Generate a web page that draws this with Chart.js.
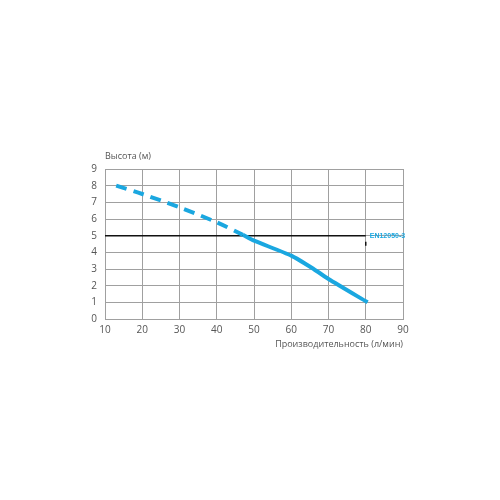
<!DOCTYPE html>
<html><head><meta charset="utf-8">
<script src="https://cdn.jsdelivr.net/npm/chart.js@4/dist/chart.umd.min.js"></script>
<style>html,body{margin:0;padding:0;background:#fff}#wrap{width:500px;height:500px}</style>
</head><body><div id="wrap"><canvas id="c" width="500" height="500"></canvas></div>
<script>
const xTicks = [10,20,30,40,50,60,70,80,90];
const yTicks = [0,1,2,3,4,5,6,7,8,9];
const dashedFlow = [13,20,30,40,47];
const dashedHead = [8.0,7.5,6.7,5.8,5.05];
const solidFlow = [47,50,60,66,70,80.5];
const solidHead = [5.05,4.7,3.8,3.0,2.4,1.0];
const refFlow = [10,80];
const refHead = [5,5];
const markFlow = [80,80];
const markHead = [4.63,4.39];
const yTitle = 'Высота (м)';
const xTitle = 'Производительность (л/мин)';
const refLabel = 'EN12050-3';
const toPts = (xs, ys) => xs.map((x,i)=>({x, y: ys[i]}));
const blue = '#1aa7e0';
const textPlugin = {
  id:'texts',
  afterDraw(chart){
    const {ctx, scales:{x,y}, chartArea} = chart;
    ctx.save();
    ctx.fillStyle = '#555';
    ctx.font = '9px "Open Sans", sans-serif';
    ctx.textBaseline = 'middle';
    ctx.textAlign = 'left';
    ctx.fillText(yTitle, chartArea.left, 156);
    ctx.textAlign = 'right';
    ctx.fillText(xTitle, chartArea.right, 344);
    ctx.fillStyle = blue;
    ctx.font = 'bold 7px "Liberation Sans Narrow", "Liberation Sans", sans-serif';
    ctx.textAlign = 'left';
    ctx.fillText(refLabel, x.getPixelForValue(80)+4, y.getPixelForValue(5)+0.5);
    ctx.restore();
  }
};
new Chart(document.getElementById('c'), {
  type:'line',
  data:{datasets:[
    {data:toPts(refFlow,refHead), borderColor:'#111', borderWidth:1.5, pointRadius:0, order:3},
    {data:toPts(markFlow,markHead), borderColor:'#111', borderWidth:1.5, pointRadius:0, order:3},
    {data:toPts(dashedFlow,dashedHead), borderColor:blue, borderWidth:4, borderDash:[11,7], pointRadius:0, tension:0.3, order:1},
    {data:toPts(solidFlow,solidHead), borderColor:blue, borderWidth:4, pointRadius:0, tension:0.2, order:1}
  ]},
  options:{
    responsive:false, animation:false,
    layout:{padding:{top:169, right:97, bottom:161, left:0}},
    plugins:{legend:{display:false}, tooltip:{enabled:false}},
    scales:{
      x:{type:'linear', min:10, max:90,
        afterBuildTicks(s){ s.ticks = xTicks.map(v=>({value:v})); },
        afterFit(s){ s.height = 20; },
        grid:{color:'#a0a0a0', lineWidth:1, drawTicks:false},
        border:{display:true, color:'#a0a0a0'},
        ticks:{padding:5, color:'#555', font:{size:10, family:'"Open Sans", sans-serif'}, maxRotation:0}
      },
      y:{type:'linear', min:0, max:9,
        afterBuildTicks(s){ s.ticks = yTicks.map(v=>({value:v})); },
        afterFit(s){ s.width = 105; },
        grid:{color:'#a0a0a0', lineWidth:1, drawTicks:false},
        border:{display:true, color:'#a0a0a0'},
        ticks:{padding:8, color:'#555', font:{size:10, family:'"Open Sans", sans-serif'}}
      }
    }
  },
  plugins:[textPlugin]
});
</script></body></html>
